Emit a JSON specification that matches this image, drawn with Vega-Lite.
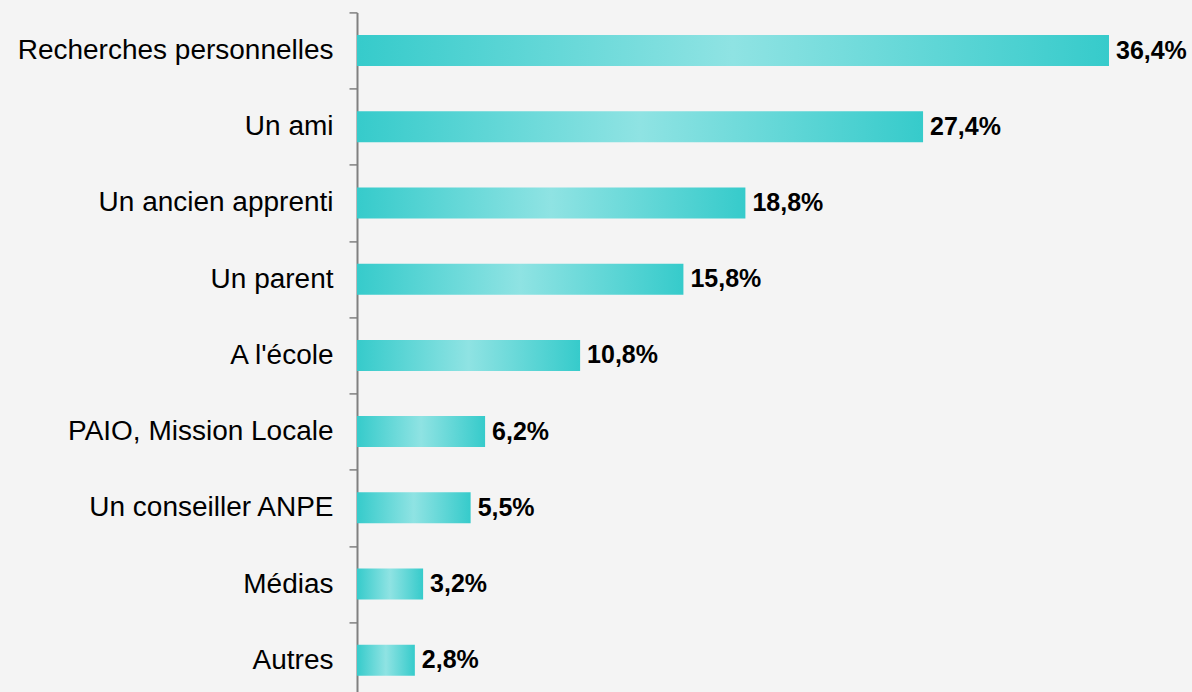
{
  "$schema": "https://vega.github.io/schema/vega-lite/v6.json",
  "width": 752,
  "height": 686,
  "autosize": {"type": "none"},
  "padding": {"left": 357, "top": 12.4, "right": 83, "bottom": 0},
  "background": "#f4f4f4",
  "config": {
    "view": {"stroke": null},
    "font": "Liberation Sans"
  },
  "data": {
    "values": [
      {"source": "Recherches personnelles", "value": 36.4, "label": "36,4%"},
      {"source": "Un ami", "value": 27.4, "label": "27,4%"},
      {"source": "Un ancien apprenti", "value": 18.8, "label": "18,8%"},
      {"source": "Un parent", "value": 15.8, "label": "15,8%"},
      {"source": "A l'école", "value": 10.8, "label": "10,8%"},
      {"source": "PAIO, Mission Locale", "value": 6.2, "label": "6,2%"},
      {"source": "Un conseiller ANPE", "value": 5.5, "label": "5,5%"},
      {"source": "Médias", "value": 3.2, "label": "3,2%"},
      {"source": "Autres", "value": 2.8, "label": "2,8%"}
    ]
  },
  "encoding": {
    "y": {
      "field": "source",
      "type": "nominal",
      "sort": null,
      "scale": {"paddingInner": 0, "paddingOuter": 0},
      "axis": {
        "title": null,
        "tickBand": "extent",
        "domainColor": "#808080",
        "domainWidth": 2,
        "tickColor": "#808080",
        "tickWidth": 1.5,
        "tickSize": 8,
        "labelPadding": 16,
        "labelFontSize": 28,
        "labelColor": "#000000",
        "labelFont": "Liberation Sans",
        "labelLimit": 400,
        "grid": false
      }
    },
    "x": {
      "field": "value",
      "type": "quantitative",
      "scale": {"domain": [0, 36.4], "nice": false, "zero": true},
      "axis": null
    }
  },
  "layer": [
    {
      "mark": {
        "type": "bar",
        "height": 31,
        "color": {
          "gradient": "linear",
          "x1": 0, "y1": 0, "x2": 1, "y2": 0,
          "stops": [
            {"offset": 0, "color": "#36cbcb"},
            {"offset": 0.5, "color": "#8fe3e3"},
            {"offset": 1, "color": "#36cbcb"}
          ]
        }
      }
    },
    {
      "mark": {
        "type": "text",
        "align": "left",
        "baseline": "middle",
        "dx": 7,
        "fontSize": 25,
        "fontWeight": "bold",
        "font": "Liberation Sans",
        "color": "#000000"
      },
      "encoding": {"text": {"field": "label"}}
    }
  ]
}
